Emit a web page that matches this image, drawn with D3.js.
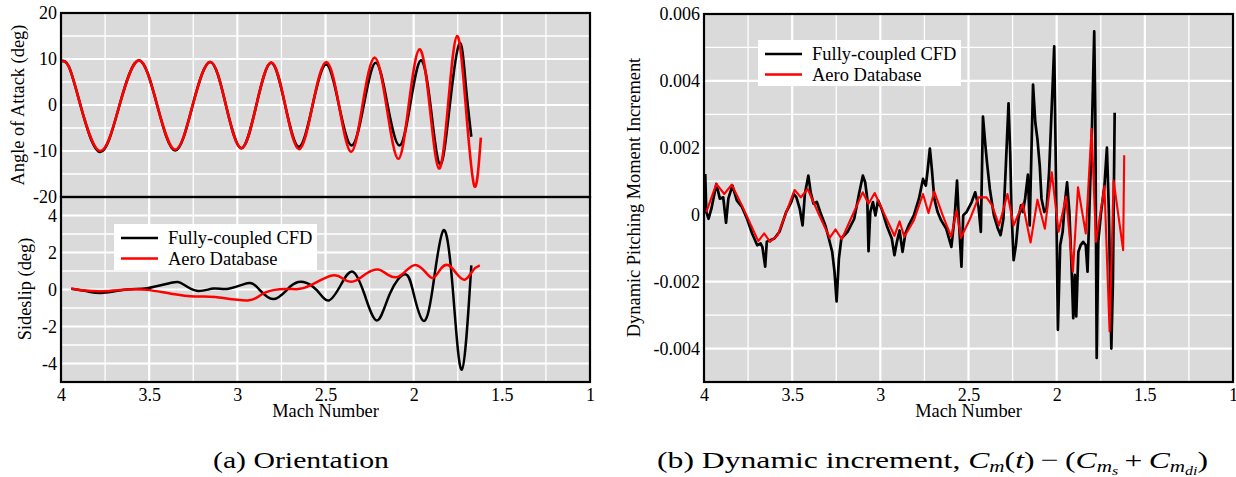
<!DOCTYPE html>
<html><head><meta charset="utf-8">
<script src="https://cdn.jsdelivr.net/npm/d3@7"></script>
<style>
html,body{margin:0;padding:0;background:#fff;}
svg{display:block;font-family:"Liberation Serif","Times New Roman",Times,serif;}
</style></head><body>
<svg id="chart" width="1236" height="477" font-family="Liberation Serif"></svg>
<script>
// ---------------- data ----------------
const machTicks = [4, 3.5, 3, 2.5, 2, 1.5, 1];
const machGrid = [3.75, 3.5, 3.25, 3, 2.75, 2.5, 2.25, 2, 1.75, 1.5, 1.25];
const aoaTicks = [20, 10, 0, -10, -20];
const aoaGrid = [15, 10, 5, 0, -5, -10, -15];
const betaTicks = [4, 2, 0, -2, -4];
const betaGrid = [4, 3, 2, 1, 0, -1, -2, -3, -4];
const cmTicks = [0.006, 0.004, 0.002, 0, -0.002, -0.004];
const cmGrid = [0.005, 0.004, 0.003, 0.002, 0.001, 0, -0.001, -0.002, -0.003, -0.004];
const seriesNames = ["Fully-coupled CFD", "Aero Database"];
const seriesColors = ["#000000", "#ff0000"];

// Angle of attack (deg) vs Mach
const aoaCFD = [[4.00,9.6],[3.955,8.3],[3.89,0],[3.779,-10.2],[3.668,0],[3.558,9.7],[3.455,0],[3.352,-9.9],[3.253,0],[3.154,9.35],[3.065,0],[2.977,-9.4],[2.892,0],[2.808,9.2],[2.729,0],[2.650,-9.1],[2.573,0],[2.496,8.8],[2.424,0],[2.352,-8.8],[2.283,0],[2.215,9.2],[2.148,0],[2.081,-8.8],[2.02,0],[1.96,9.7],[1.905,0],[1.85,-12.9],[1.795,0],[1.74,13.4],[1.705,4.5],[1.673,-6.9]];
const aoaDB = [[4.00,9.6],[3.955,8.3],[3.89,0],[3.779,-10.0],[3.668,0],[3.558,9.7],[3.455,0],[3.352,-9.7],[3.253,0],[3.154,9.4],[3.065,0],[2.977,-9.4],[2.892,0],[2.808,9.3],[2.729,0],[2.650,-9.6],[2.573,0],[2.496,9.35],[2.424,0],[2.355,-10.2],[2.29,0],[2.222,10.3],[2.155,0],[2.088,-11.7],[2.028,0],[1.967,12.1],[1.91,0],[1.856,-13.8],[1.805,0],[1.754,15.0],[1.705,0],[1.656,-17.6],[1.619,-7.1]];

// Sideslip (deg) vs Mach
const betaCFD = [[3.942,0.04],[3.85,-0.1],[3.76,-0.18],[3.625,0],[3.51,0.07],[3.375,0.36],[3.31,0.3],[3.23,-0.07],[3.135,0.05],[3.058,0.03],[2.962,0.29],[2.894,0.18],[2.798,-0.52],[2.70,0.16],[2.625,0.41],[2.548,-0.05],[2.481,-0.59],[2.41,0.3],[2.346,0.97],[2.28,-0.23],[2.208,-1.67],[2.135,-0.23],[2.048,0.83],[2.0,-0.23],[1.946,-1.69],[1.894,-0.05],[1.833,3.18],[1.779,0.13],[1.727,-4.33],[1.673,1.3]];
const betaDB = [[3.942,0.04],[3.86,-0.06],[3.76,-0.09],[3.625,0.0],[3.51,-0.02],[3.375,-0.23],[3.24,-0.38],[3.125,-0.41],[2.942,-0.59],[2.856,-0.23],[2.76,0.02],[2.664,0.02],[2.587,0.22],[2.462,0.76],[2.394,0.54],[2.337,0.45],[2.27,0.85],[2.202,1.08],[2.145,0.79],[2.096,0.67],[2.048,0.97],[1.99,1.33],[1.933,0.94],[1.888,0.63],[1.846,1.12],[1.802,1.31],[1.756,0.85],[1.708,0.54],[1.664,1.03],[1.625,1.3]];

// Dynamic pitching moment increment vs Mach
const cmCFD = [[3.993,0.00122],[3.987,0.00008],[3.974,-0.00012],[3.958,0.00018],[3.930,0.00092],[3.910,0.00048],[3.891,0.00052],[3.875,-0.00024],[3.862,0.00048],[3.839,0.00087],[3.814,0.00043],[3.785,0.00023],[3.756,-0.00012],[3.727,-0.00056],[3.698,-0.00091],[3.679,-0.00086],[3.669,-0.00096],[3.653,-0.00155],[3.644,-0.00081],[3.625,-0.00076],[3.601,-0.00071],[3.572,-0.00051],[3.534,0.00008],[3.505,0.00038],[3.491,0.00062],[3.476,0.00052],[3.457,0.00018],[3.441,-0.00032],[3.428,0.00062],[3.408,0.00117],[3.395,0.00067],[3.379,0.00033],[3.360,0.00038],[3.341,0.00008],[3.312,-0.00032],[3.292,-0.00071],[3.273,-0.00111],[3.260,-0.00170],[3.248,-0.00259],[3.235,-0.00131],[3.221,-0.00071],[3.186,-0.00051],[3.148,-0.00012],[3.119,0.00067],[3.099,0.00117],[3.086,0.00097],[3.074,0.00048],[3.067,-0.00109],[3.057,0.00008],[3.042,0.00038],[3.028,-0.00002],[3.013,0.00043],[2.993,0.00018],[2.964,-0.00032],[2.935,-0.00071],[2.920,-0.00121],[2.906,-0.00081],[2.891,-0.00047],[2.874,-0.00111],[2.858,-0.00056],[2.839,-0.00032],[2.810,-0.00002],[2.781,0.00048],[2.758,0.00107],[2.742,0.00087],[2.733,0.00127],[2.719,0.00198],[2.708,0.00137],[2.694,0.00048],[2.675,0.00008],[2.655,-0.00017],[2.626,-0.00042],[2.597,-0.00096],[2.578,-0.00002],[2.565,0.00102],[2.553,-0.00032],[2.540,-0.00155],[2.530,-0.00002],[2.511,0.00008],[2.482,0.00038],[2.462,0.00067],[2.443,0.00023],[2.430,-0.00051],[2.418,0.00293],[2.404,0.00206],[2.395,0.00156],[2.379,0.00077],[2.356,-0.00002],[2.333,-0.00042],[2.318,-0.00061],[2.302,-0.00012],[2.289,0.00137],[2.273,0.00333],[2.263,0.00176],[2.256,0.00008],[2.244,-0.00136],[2.231,-0.00091],[2.217,-0.00012],[2.202,0.00028],[2.192,0.00008],[2.179,0.00048],[2.163,0.00120],[2.153,-0.00032],[2.134,0.00389],[2.121,0.00275],[2.109,0.00226],[2.096,0.00147],[2.086,0.00048],[2.070,0.00008],[2.057,0.00018],[2.043,0.00127],[2.014,0.00503],[2.005,0.00156],[1.993,-0.00344],[1.980,-0.00091],[1.966,-0.00051],[1.955,0.00028],[1.941,0.00097],[1.928,0.00008],[1.916,-0.00150],[1.906,-0.00309],[1.897,-0.00180],[1.889,-0.00304],[1.877,-0.00111],[1.864,-0.00091],[1.850,-0.00081],[1.835,-0.00091],[1.825,-0.00170],[1.816,-0.00012],[1.800,0.00255],[1.787,0.00548],[1.781,0.00305],[1.773,-0.00428],[1.764,-0.00081],[1.748,0.00008],[1.729,0.00087],[1.715,0.00201],[1.704,0.00008],[1.690,-0.00400],[1.681,-0.00200],[1.671,0.00305]];
const cmDB = [[3.987,0.00008],[3.930,0.00092],[3.885,0.00062],[3.843,0.00090],[3.785,0.00028],[3.692,-0.00079],[3.659,-0.00056],[3.625,-0.00081],[3.582,-0.00061],[3.486,0.00074],[3.451,0.00052],[3.412,0.00077],[3.350,0.00003],[3.287,-0.00069],[3.254,-0.00044],[3.219,-0.00073],[3.167,-0.00012],[3.100,0.00067],[3.067,0.00033],[3.032,0.00065],[2.974,-0.00002],[2.920,-0.00063],[2.891,-0.00020],[2.864,-0.00066],[2.810,-0.00017],[2.758,0.00062],[2.727,0.00005],[2.694,0.00069],[2.646,-0.00002],[2.598,-0.00066],[2.568,0.00013],[2.543,-0.00069],[2.491,-0.00012],[2.443,0.00052],[2.398,0.00052],[2.366,0.00028],[2.327,-0.00032],[2.279,0.00062],[2.244,-0.00032],[2.192,0.00033],[2.148,-0.00083],[2.109,0.00045],[2.067,-0.00042],[2.028,0.00127],[1.989,-0.00051],[1.947,0.00054],[1.908,-0.00170],[1.879,0.00082],[1.835,-0.00056],[1.802,0.00257],[1.777,-0.00081],[1.729,0.00085],[1.700,-0.00349],[1.677,0.00102],[1.623,-0.00106],[1.617,0.00178]];

// ---------------- drawing ----------------
const svg = d3.select("#chart");
const BG = "#dadada";
const FS = 18;
const SERIF = "Liberation Serif";

const xL = d3.scaleLinear().domain([4, 1]).range([61, 590]);
const yTop = d3.scaleLinear().domain([-20, 20]).range([197, 13]);
const yBot = d3.scaleLinear().domain([-5, 5]).range([382, 197]);
const xR = d3.scaleLinear().domain([4, 1]).range([704, 1233]);
const yR = d3.scaleLinear().domain([-0.005, 0.006]).range([382, 14]);

let clipId = 0;
function panel(x, y, xg, xt, yg, yt) {
  const [x0, x1] = x.range();
  const y1 = y.range()[0], y0 = y.range()[1];
  const g = svg.append("g");
  g.append("rect").attr("x", x0).attr("y", y0).attr("width", x1 - x0).attr("height", y1 - y0).attr("fill", BG);
  const gg = g.append("g");
  gg.selectAll(".vx").data(xg).enter().append("line")
    .attr("x1", d => x(d)).attr("x2", d => x(d)).attr("y1", y0).attr("y2", y1)
    .attr("stroke", "#fff").attr("stroke-width", d => xt.includes(d) ? 2.2 : 1.3);
  gg.selectAll(".hy").data(yg).enter().append("line")
    .attr("y1", d => y(d)).attr("y2", d => y(d)).attr("x1", x0).attr("x2", x1)
    .attr("stroke", "#fff").attr("stroke-width", d => yt.some(t => Math.abs(t - d) < 1e-9) ? 2.2 : 1.3);
  const id = "clip" + (clipId++);
  svg.append("clipPath").attr("id", id).append("rect")
    .attr("x", x0).attr("y", y0).attr("width", x1 - x0).attr("height", y1 - y0);
  const plot = g.append("g").attr("clip-path", `url(#${id})`);
  return { g, plot, x0, x1, y0, y1 };
}

function drawLine(p, x, y, data, color, w, curve) {
  const line = d3.line().x(d => x(d[0])).y(d => y(d[1])).curve(curve);
  p.plot.append("path").datum(data).attr("d", line)
    .attr("fill", "none").attr("stroke", color).attr("stroke-width", w)
    .attr("stroke-linejoin", "round").attr("stroke-linecap", "butt");
}

function border(p) {
  svg.append("rect").attr("x", p.x0).attr("y", p.y0).attr("width", p.x1 - p.x0).attr("height", p.y1 - p.y0)
    .attr("fill", "none").attr("stroke", "#000").attr("stroke-width", 2.2);
}

function yAxis(x0, y, ticks) {
  const a = svg.append("g").attr("transform", `translate(${x0},0)`)
    .call(d3.axisLeft(y).tickValues(ticks).tickSize(0).tickPadding(4).tickFormat(d => String(d)));
  a.attr("font-family", SERIF);
  a.select(".domain").remove();
  a.selectAll("text").attr("font-size", FS).attr("font-family", SERIF).attr("fill", "#000");
}
function xAxis(y0, x, ticks) {
  const a = svg.append("g").attr("transform", `translate(0,${y0})`)
    .call(d3.axisBottom(x).tickValues(ticks).tickSize(0).tickPadding(6).tickFormat(d => String(d)));
  a.attr("font-family", SERIF);
  a.select(".domain").remove();
  a.selectAll("text").attr("font-size", FS).attr("font-family", SERIF).attr("fill", "#000");
}

function legend(x, y) {
  const g = svg.append("g").attr("transform", `translate(${x},${y})`);
  g.append("rect").attr("width", 203).attr("height", 46).attr("fill", "#fff");
  seriesNames.forEach((n, i) => {
    const ly = 14 + i * 20.5;
    g.append("line").attr("x1", 7).attr("x2", 44).attr("y1", ly).attr("y2", ly)
      .attr("stroke", seriesColors[i]).attr("stroke-width", 2.5);
    g.append("text").attr("x", 54).attr("y", ly + 6).attr("font-size", 18.5)
      .attr("font-family", SERIF).text(n);
  });
}

// Top-left: angle of attack
const pTop = panel(xL, yTop, machGrid, machTicks, aoaGrid, aoaTicks);
drawLine(pTop, xL, yTop, aoaCFD, seriesColors[0], 2.6, d3.curveNatural);
drawLine(pTop, xL, yTop, aoaDB, seriesColors[1], 2.6, d3.curveNatural);

// Bottom-left: sideslip
const pBot = panel(xL, yBot, machGrid, machTicks, betaGrid, betaTicks);
drawLine(pBot, xL, yBot, betaCFD, seriesColors[0], 2.5, d3.curveNatural);
drawLine(pBot, xL, yBot, betaDB, seriesColors[1], 2.5, d3.curveNatural);
legend(114, 224);

border(pTop);
border(pBot);
yAxis(61, yTop, aoaTicks);
yAxis(61, yBot, betaTicks);
xAxis(382, xL, machTicks);

// Right: pitching moment increment
const pR = panel(xR, yR, machGrid, machTicks, cmGrid, cmTicks);
drawLine(pR, xR, yR, cmCFD, seriesColors[0], 2.7, d3.curveLinear);
drawLine(pR, xR, yR, cmDB, seriesColors[1], 2.1, d3.curveLinear);
legend(758, 40);
border(pR);
yAxis(704, yR, cmTicks);
xAxis(382, xR, machTicks);

// Axis titles
function title(txt, x, y, rot) {
  svg.append("text").attr("transform", `translate(${x},${y}) rotate(${rot})`)
    .attr("text-anchor", "middle").attr("font-size", 18.4).attr("font-family", SERIF).text(txt);
}
title("Angle of Attack (deg)", 24, 105, -90);
title("Sideslip (deg)", 31, 289, -90);
title("Mach Number", 325.5, 417, 0);
title("Dynamic Pitching Moment Increment", 640, 197.5, -90);
title("Mach Number", 968.5, 417, 0);

// Captions
svg.append("text").attr("x", 213).attr("y", 468).attr("font-size", 24).attr("font-family", SERIF)
  .attr("textLength", 176).attr("lengthAdjust", "spacingAndGlyphs").text("(a) Orientation");

const cb = svg.append("text").attr("x", 657).attr("y", 468).attr("font-size", 24).attr("font-family", SERIF)
  .attr("textLength", 551).attr("lengthAdjust", "spacingAndGlyphs");
const parts = [
  ["(b) Dynamic increment, ", "normal", 24, 0],
  ["C", "italic", 24, 0],
  ["m", "italic", 16, 4],
  ["(", "normal", 24, -4],
  ["t", "italic", 24, 0],
  [")\u2009\u2212\u2009(", "normal", 24, 0],
  ["C", "italic", 24, 0],
  ["m", "italic", 16, 4],
  ["s", "italic", 12, 3],
  ["\u2009+\u2009", "normal", 24, -7],
  ["C", "italic", 24, 0],
  ["m", "italic", 16, 4],
  ["di", "italic", 12, 3],
  [")", "normal", 24, -7]
];
parts.forEach(p => {
  cb.append("tspan").attr("font-style", p[1]).attr("font-size", p[2]).attr("dy", p[3]).text(p[0]);
});
</script>
</body></html>
